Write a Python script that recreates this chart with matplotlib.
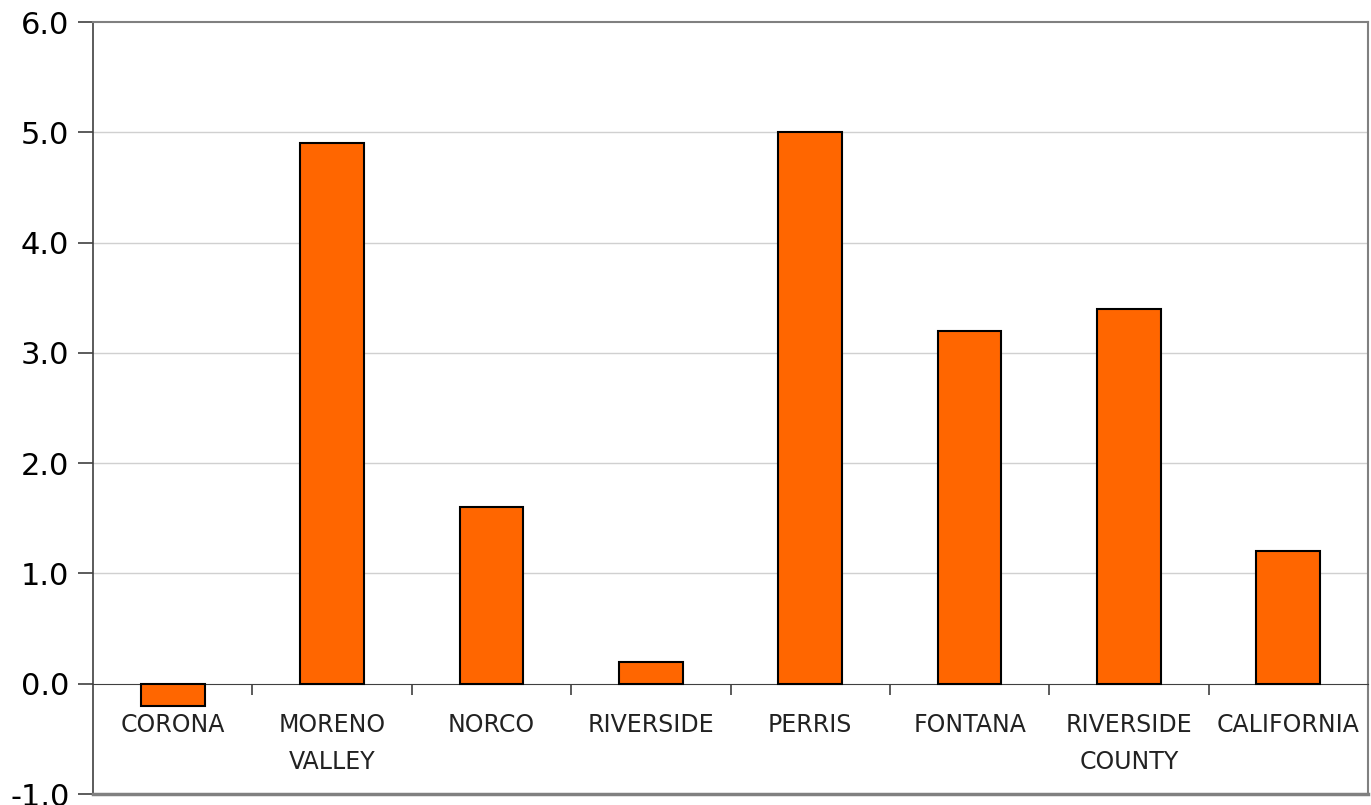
import numpy as np
import matplotlib.pyplot as plt
from matplotlib.ticker import FixedLocator

# values
places = ["CORONA", "MORENO\nVALLEY", "NORCO", "RIVERSIDE", "PERRIS",
          "FONTANA", "RIVERSIDE\nCOUNTY", "CALIFORNIA"]
values = [-0.2, 4.9, 1.6, 0.2, 5.0, 3.2, 3.4, 1.2]

plt.rcParams['font.family'] = ['DejaVu Sans']

fig = plt.figure(figsize=(13.71, 8.05), dpi=100)
ax = fig.add_axes([93/1371, 11/805, 1275/1371, 772/805])

x = np.arange(len(places))
ax.bar(x, values, width=0.4, color='#FF6600', edgecolor='black', linewidth=1.5, zorder=3)

ax.set_xlim(-0.5, len(places) - 0.5)
ax.set_ylim(-1.0, 6.0)
ax.set_yticks(np.arange(-1, 7, 1))
ax.set_yticklabels([f"{v:.1f}" for v in np.arange(-1, 7, 1)], fontsize=22)
ax.tick_params(axis='y', length=11, width=1.2, color='#404040', pad=6)

# category axis sits on the zero line
ax.spines['bottom'].set_position(('data', 0))
ax.spines['bottom'].set_color('#404040')
ax.spines['left'].set_color('#404040')
ax.spines['left'].set_linewidth(1.2)
ax.spines['top'].set_color('#808080')
ax.spines['right'].set_color('#808080')
ax.spines['top'].set_linewidth(1.5)
ax.spines['right'].set_linewidth(1.5)

ax.set_xticks(x)
ax.set_xticklabels(places, fontsize=17, color='#222222', linespacing=1.7)
ax.tick_params(axis='x', which='major', length=0, pad=21)
ax.xaxis.set_minor_locator(FixedLocator(np.arange(0.5, len(places) - 0.5, 1)))
ax.tick_params(axis='x', which='minor', length=8, width=1.2, color='#404040')

# bottom border of the plot area
ax.axhline(-1.0, color='#808080', linewidth=2.5, zorder=4, clip_on=False)

for v in range(1, 6):
    ax.axhline(v, color='#d0d0d0', linewidth=1, zorder=1)

fig.savefig("out.png", dpi=100)
